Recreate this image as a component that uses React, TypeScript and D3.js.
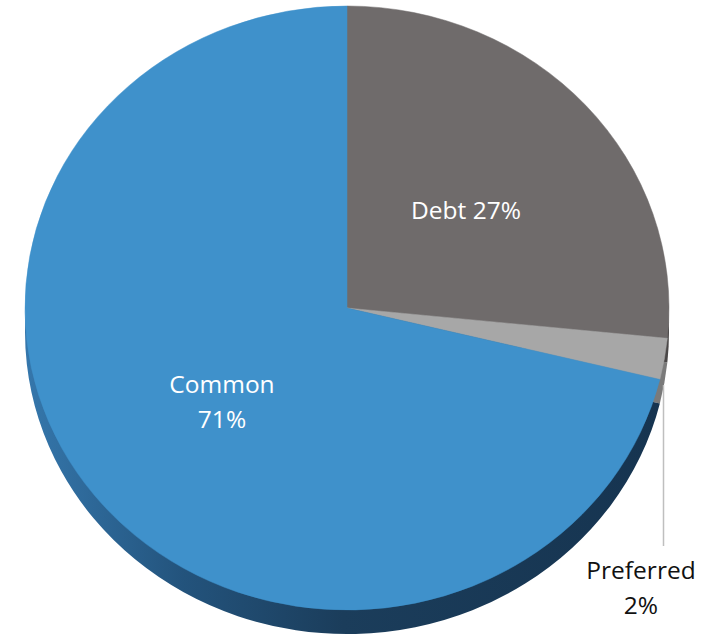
import React from "react";
import * as d3 from "d3";

const categories = ["Debt", "Preferred", "Common"];
const values = [26.6, 2.2, 71.2];
const labelLines = [["Debt 27%"], ["Preferred", "2%"], ["Common", "71%"]];
const topColors = ["#6F6B6B", "#A7A7A7", "#3F91CB"];
const sideColors = ["#4A4747", "#7A7A7A", "url(#sideGrad)"];

const W = 708;
const H = 637;
const cx = 347;
const cy = 308;
const rx = 322;
const ry = 302;
const depth = 24;

export default function App() {
  const pie = d3.pie<number>().sort(null).value((d) => d);
  const arcs = pie(values);
  const arc = d3.arc<d3.PieArcDatum<number>>().innerRadius(0).outerRadius(rx);
  const sy = ry / rx;

  const labelPos = [
    { x: 466, y: 219, fill: "#ffffff", anchor: "middle" },
    { x: 641, y: 579, fill: "#111111", anchor: "middle" },
    { x: 222, y: 393, fill: "#ffffff", anchor: "middle" },
  ];

  return (
    <svg width={W} height={H} style={{ position: "absolute", left: 0, top: 0 }}>
      <defs>
        <linearGradient id="sideGrad" x1="0" y1="0" x2="1" y2="0">
          <stop offset="0%" stopColor="#3577AC" />
          <stop offset="25%" stopColor="#23537C" />
          <stop offset="50%" stopColor="#1B3D5B" />
          <stop offset="100%" stopColor="#163450" />
        </linearGradient>
      </defs>
      <g transform={`translate(${cx},${cy + depth}) scale(1,${sy})`}>
        {arcs.map((a, i) => (
          <path key={"s" + i} d={arc(a) || ""} fill={sideColors[i]} />
        ))}
      </g>
      <g transform={`translate(${cx},${cy}) scale(1,${sy})`}>
        {arcs.map((a, i) => (
          <path key={"t" + i} d={arc(a) || ""} fill={topColors[i]} stroke={topColors[i]} strokeWidth={0.5} />
        ))}
      </g>
      <line x1={663.5} y1={385} x2={663.5} y2={546} stroke="#BFBFBF" strokeWidth={1.5} />
      {labelLines.map((lines, i) => (
        <text
          key={"l" + i}
          x={labelPos[i].x}
          y={labelPos[i].y}
          textAnchor={labelPos[i].anchor as any}
          fill={labelPos[i].fill}
          fontFamily="'Open Sans', 'Noto Sans', sans-serif"
          fontSize={24.5}
        >
          {lines.map((t, j) => (
            <tspan key={j} x={labelPos[i].x} dy={j === 0 ? 0 : 35}>
              {t}
            </tspan>
          ))}
        </text>
      ))}
    </svg>
  );
}
